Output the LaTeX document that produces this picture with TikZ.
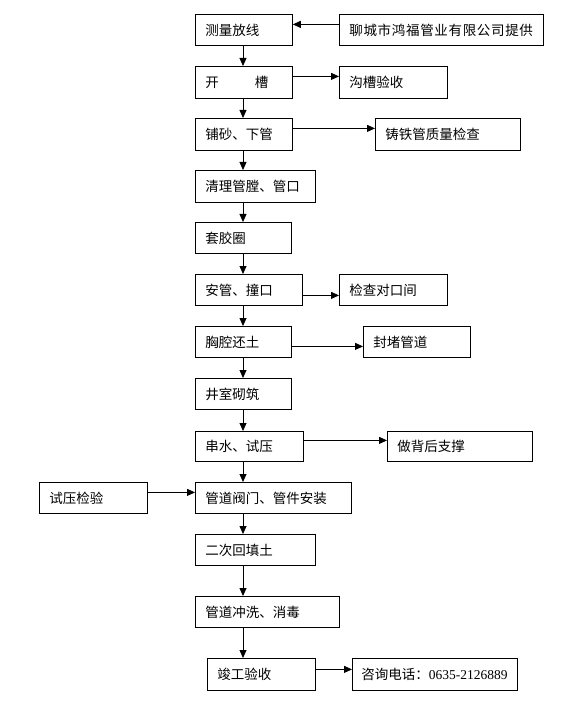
\documentclass[tikz,border=0pt]{standalone}
\usepackage{fontspec}
\setmainfont{Noto Sans CJK SC}
\newfontfamily\numfont{Liberation Serif}
\newfontfamily\widefont[LetterSpace=5]{Noto Sans CJK SC}
\usetikzlibrary{arrows.meta}

\tikzset{
  box/.style={draw, line width=.8pt, anchor=north west, inner xsep=10pt,
    inner ysep=0pt, align=left, font=\fontsize{13.5}{15}\selectfont},
  arr/.style={line width=.8pt, -{Triangle[length=8pt,width=7pt]}}
}

\begin{document}
\begin{tikzpicture}[x=1pt, y=-1pt]

\useasboundingbox (0,0) rectangle (587,708) ;

% main column
\node [box, minimum height=31pt, text width=77pt] (cl) at (195,14) {测量放线} ;
\node [box, minimum height=32pt, text width=77pt] (kc) at (195,66) {开\hspace{36pt}槽} ;
\node [box, minimum height=32pt, text width=77pt] (ps) at (195,118) {铺砂、下管} ;
\node [box, minimum height=32pt, text width=100pt] (ql) at (195,170) {清理管膛、管口} ;
\node [box, minimum height=31pt, text width=76pt] (tj) at (195,222) {套胶圈} ;
\node [box, minimum height=31pt, text width=87pt] (ag) at (195,274) {安管、撞口} ;
\node [box, minimum height=31pt, text width=76pt] (xq) at (195,326) {胸腔还土} ;
\node [box, minimum height=31pt, text width=76pt] (js) at (195,378) {井室砌筑} ;
\node [box, minimum height=30pt, text width=88pt] (cs) at (195,431) {串水、试压} ;
\node [box, minimum height=31pt, text width=136pt] (fm) at (195,482) {管道阀门、管件安装} ;
\node [box, minimum height=31pt, text width=100pt] (ec) at (195,534) {二次回填土} ;
\node [box, minimum height=31pt, text width=124pt] (cx) at (195,596) {管道冲洗、消毒} ;
\node [box, minimum height=32pt, text width=88pt] (jg) at (207,658) {竣工验收} ;

% side boxes
\node [box, minimum height=31pt, text width=184pt] (gy) at (339,14) {\widefont 聊城市鸿福管业有限公司提供} ;
\node [box, minimum height=32pt, text width=88pt] (gc) at (339,66) {沟槽验收} ;
\node [box, minimum height=32pt, text width=125pt] (zt) at (375,118) {铸铁管质量检查} ;
\node [box, minimum height=31pt, text width=88pt] (jc) at (339,274) {检查对口间} ;
\node [box, minimum height=31pt, text width=87pt] (fd) at (363,326) {封堵管道} ;
\node [box, minimum height=30pt, text width=125pt] (zc) at (387,431) {做背后支撑} ;
\node [box, minimum height=31pt, text width=88pt] (sy) at (39,482) {试压检验} ;
\node [box, minimum height=32pt, text width=147pt, inner xsep=9pt] (zx) at (352,658) {咨询电话：{\numfont 0635-2126889}} ;

% down arrows
\foreach \a/\b in {cl/kc, kc/ps, ps/ql, ql/tj, tj/ag, ag/xq, xq/js, js/cs, cs/fm, fm/ec, ec/cx}
  \draw [arr] ([xshift=48pt]\a.south west) to ([xshift=48pt]\b.north west) ;
\draw [arr] ([xshift=48pt]cx.south west) to ([xshift=36pt]jg.north west) ;

% side arrows
\draw [arr] ([yshift=5.5pt]gy.west) to ([yshift=5.5pt]cl.east) ;
\draw [arr] ([yshift=6pt]kc.east) to ([yshift=6pt]gc.west) ;
\draw [arr] ([yshift=6pt]ps.east) to ([yshift=6pt]zt.west) ;
\draw [arr] ([yshift=-5.5pt]ag.east) to ([yshift=-5.5pt]jc.west) ;
\draw [arr] ([yshift=-4.5pt]xq.east) to ([yshift=-4.5pt]fd.west) ;
\draw [arr] ([yshift=6pt]cs.east) to ([yshift=6pt]zc.west) ;
\draw [arr] ([yshift=5.5pt]sy.east) to ([yshift=5.5pt]fm.west) ;
\draw [arr] ([yshift=5pt]jg.east) to ([yshift=5pt]zx.west) ;

\end{tikzpicture}
\end{document}
